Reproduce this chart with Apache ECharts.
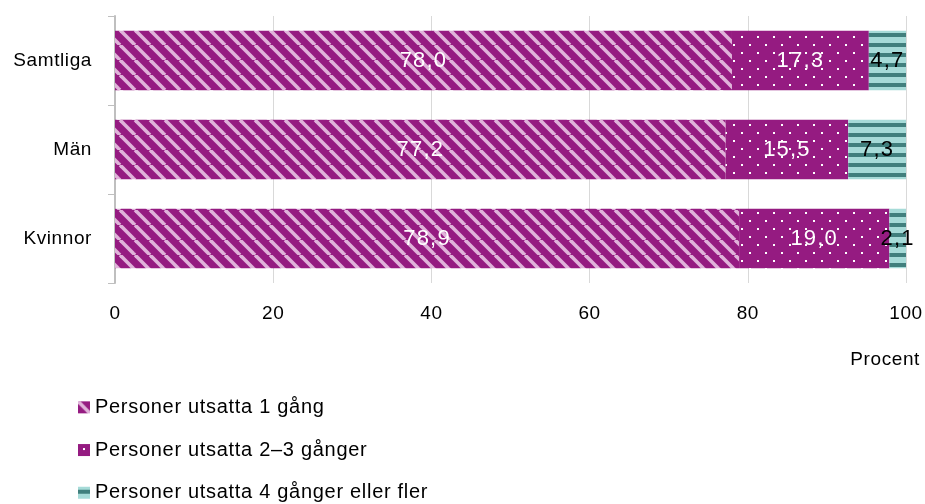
<!DOCTYPE html>
<html><head><meta charset="utf-8">
<script src="https://cdn.jsdelivr.net/npm/echarts@6/dist/echarts.min.js"></script>
<style>html,body{margin:0;padding:0;background:#fff;overflow:hidden}#c{width:925px;height:504px}</style>
</head><body><div id="c"></div>
<script>
const categories = ['Samtliga', 'Män', 'Kvinnor'];
const seriesNames = ['Personer utsatta 1 gång', 'Personer utsatta 2\u20133 gånger', 'Personer utsatta 4 gånger eller fler'];
const once = [78.0, 77.2, 78.9];
const twoThree = [17.3, 15.5, 19.0];
const fourPlus = [4.7, 7.3, 2.1];
const xTicks = [0, 20, 40, 60, 80, 100];

// slightly wider tracking, like the original's typeface
(function () {
  const proto = CanvasRenderingContext2D.prototype;
  if (!('letterSpacing' in proto)) return;
  const ls = f => { const m = /(\d+(?:\.\d+)?)px/.exec(f || ''); const s = m ? +m[1] : 12;
    return s >= 22 ? '1.2px' : s >= 20 ? '0.7px' : s >= 19 ? '0.6px' : '0px'; };
  const ft = proto.fillText, mt = proto.measureText;
  proto.fillText = function () { this.letterSpacing = ls(this.font); return ft.apply(this, arguments); };
  proto.measureText = function () { this.letterSpacing = ls(this.font); return mt.apply(this, arguments); };
})();

function stripePattern() {
  const s = 15, c = document.createElement('canvas'); c.width = s; c.height = s;
  const g = c.getContext('2d');
  g.fillStyle = '#951b81'; g.fillRect(0, 0, s, s);
  g.strokeStyle = '#e0b3da'; g.lineWidth = 3.6;
  for (let k = -1; k <= 1; k++) {
    g.beginPath(); g.moveTo(k * s, 0); g.lineTo(k * s + s, s); g.stroke();
  }
  return { image: c, repeat: 'repeat' };
}
function dotPattern() {
  const s = 16, c = document.createElement('canvas'); c.width = s; c.height = s;
  const g = c.getContext('2d');
  g.fillStyle = '#951b81'; g.fillRect(0, 0, s, s);
  g.fillStyle = '#ffffff';
  g.fillRect(5, 4, 2, 2);
  g.fillRect(13, 12, 2, 2);
  return { image: c, repeat: 'repeat' };
}
function hStripePattern() {
  const c = document.createElement('canvas'); c.width = 4; c.height = 10;
  const g = c.getContext('2d');
  g.fillStyle = '#a6dbd8'; g.fillRect(0, 0, 4, 10);
  g.fillStyle = '#407f7d'; g.fillRect(0, 3, 4, 4);
  return { image: c, repeat: 'repeat' };
}
const fmt = p => p.value.toFixed(1).replace('.', ',');
const font = '"Liberation Sans", Arial, sans-serif';
function mk(name, data, color, labelColor) {
  return {
    name, type: 'bar', stack: 'a', data, barWidth: '67%',
    itemStyle: { color },
    label: { show: true, position: 'inside', formatter: fmt, color: labelColor, fontSize: 22, fontFamily: font },
    emphasis: { disabled: true }
  };
}
const chart = echarts.init(document.getElementById('c'));
chart.setOption({
  animation: false,
  textStyle: { fontFamily: font },
  grid: { left: 115, right: 19, top: 16, bottom: 221, containLabel: false, outerBoundsMode: 'none' },
  xAxis: {
    type: 'value', min: 0, max: 100, interval: 20,
    name: 'Procent', nameLocation: 'end', nameGap: 0,
    nameTextStyle: { fontSize: 19, color: '#000', align: 'right', verticalAlign: 'top', padding: [67, -14, 0, 0] },
    axisLine: { show: false }, axisTick: { show: false },
    splitLine: { show: true, lineStyle: { color: '#d9d9d9', width: 1 } },
    axisLabel: { fontSize: 19, color: '#000', margin: 21, formatter: v => xTicks.includes(v) ? String(v) : '' }
  },
  yAxis: {
    type: 'category', data: categories, inverse: true,
    axisLine: { show: true, lineStyle: { color: '#bfbfbf', width: 2 } },
    axisTick: { show: true, length: 7, lineStyle: { color: '#bfbfbf', width: 1 } },
    axisLabel: { fontSize: 19, color: '#000', margin: 23 }
  },
  legend: {
    orient: 'vertical', left: 78, top: 397, padding: 0, itemGap: 22,
    itemWidth: 12, itemHeight: 12, icon: 'rect',
    textStyle: { fontSize: 20, color: '#000', fontFamily: font },
    data: seriesNames
  },
  series: [
    mk(seriesNames[0], once, stripePattern(), '#fff'),
    mk(seriesNames[1], twoThree, dotPattern(), '#fff'),
    mk(seriesNames[2], fourPlus, hStripePattern(), '#000')
  ]
});
</script></body></html>
